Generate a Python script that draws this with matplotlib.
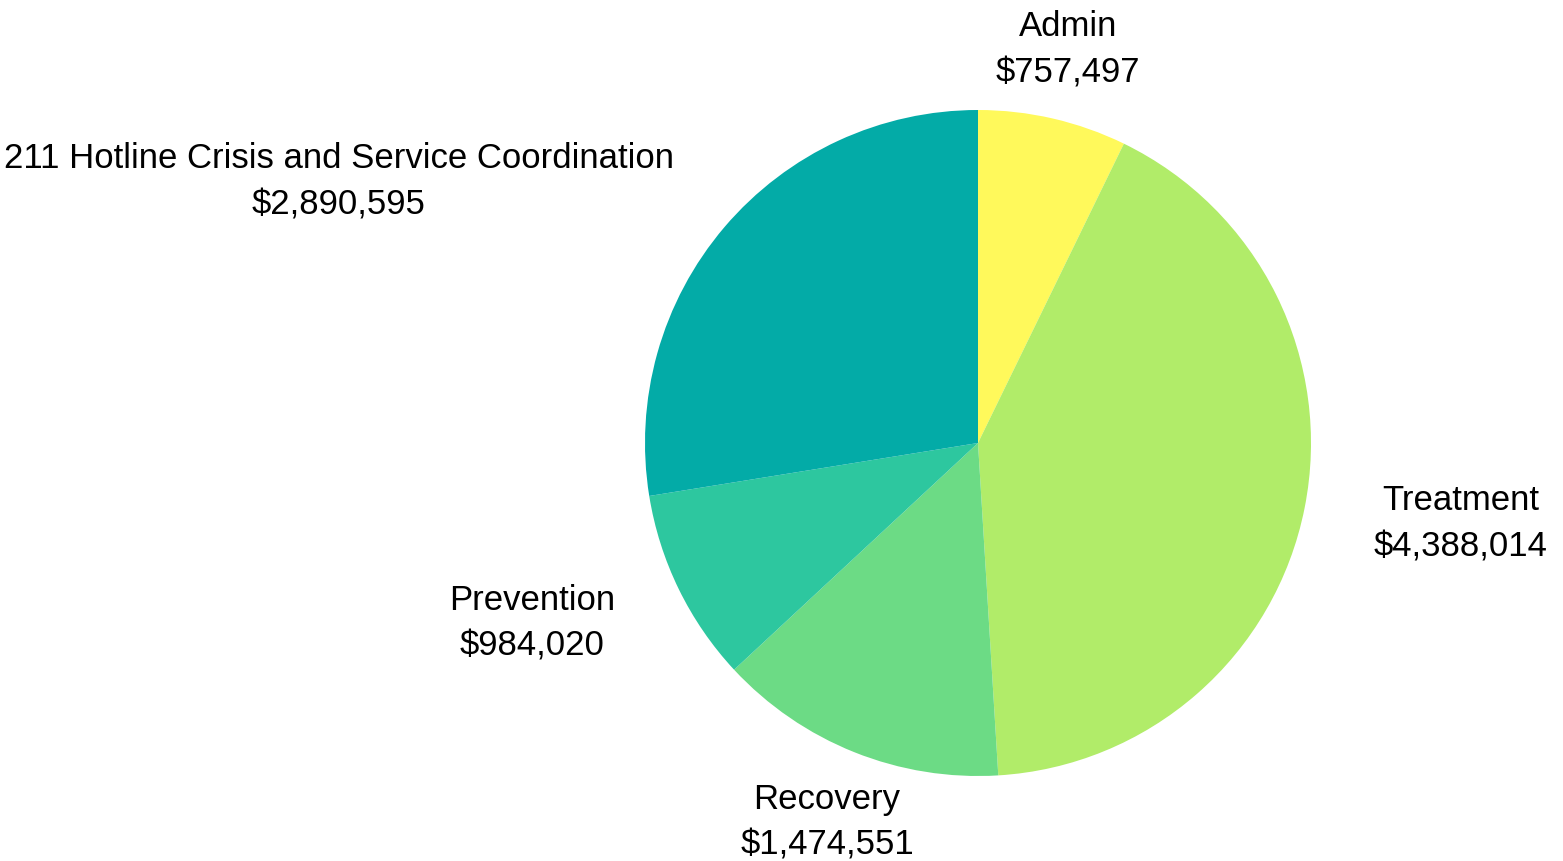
import matplotlib.pyplot as plt

# Data
categories = ["Admin", "Treatment", "Recovery", "Prevention",
              "211 Hotline Crisis and Service Coordination"]
amounts = [757497, 4388014, 1474551, 984020, 2890595]
colors = ["#FFF95B", "#B1EC69", "#6CDB85", "#2DC79F", "#03ABA7"]

# label anchor (centre of the two-line block) in pixels, origin top-left
label_pos = [(1068, 50), (1461, 524), (827, 822), (532, 623), (339, 182)]

W, H = 1563, 861
fig = plt.figure(figsize=(W / 100, H / 100), dpi=100)
ax = fig.add_axes([0, 0, 1, 1])

# pie drawn in flipped y: start at top, go clockwise
ax.pie(amounts, colors=colors, center=(978, 443), radius=333,
       startangle=-90, counterclock=True, frame=True,
       wedgeprops=dict(linewidth=0))
ax.set_xlim(0, W)
ax.set_ylim(H, 0)
ax.set_aspect("equal")
ax.axis("off")

fam = ["Liberation Sans", "DejaVu Sans"]
for name, val, (x, y) in zip(categories, amounts, label_pos):
    ax.text(x, y - 23, name, ha="center", va="center", fontsize=25,
            family=fam, color="black")
    ax.text(x, y + 23, "${:,}".format(val), ha="center", va="center",
            fontsize=25, family=fam, color="black")

fig.savefig("out.png", dpi=100)
